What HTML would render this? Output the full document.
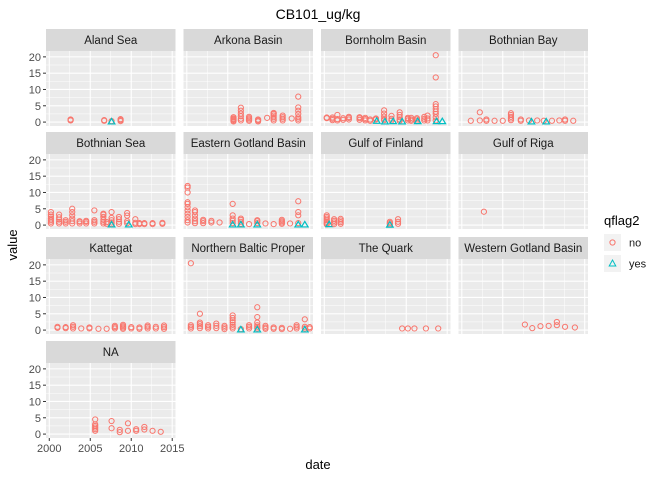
<!DOCTYPE html>
<html><head><meta charset="utf-8"><style>
body{margin:0;background:#fff;}
svg{display:block;font-family:"Liberation Sans",sans-serif;}
</style></head><body>
<svg id="chart" width="672" height="480">
<text x="318" y="19" font-size="14" text-anchor="middle" fill="#000">CB101_ug/kg</text>
<text x="318" y="469" font-size="13" text-anchor="middle" fill="#000">date</text>
<text transform="translate(17,245) rotate(-90)" font-size="13" text-anchor="middle" fill="#000">value</text>
<g>
<text x="604" y="225" font-size="13" fill="#000">qflag2</text>
<rect x="604" y="234" width="17" height="17" fill="#F2F2F2"/>
<circle cx="612.5" cy="242.5" r="2.6" fill="none" stroke="#F8766D" stroke-width="1"/>
<text x="629" y="246.5" font-size="11" fill="#1A1A1A">no</text>
<rect x="604" y="255" width="17" height="17" fill="#F2F2F2"/>
<path d="M612.5,260 L615.8,266 L609.2,266 Z" fill="none" stroke="#00BFC4" stroke-width="1"/>
<text x="629" y="267.5" font-size="11" fill="#1A1A1A">yes</text>
</g>
</svg>
<script>
const facetNames=["Aland Sea","Arkona Basin","Bornholm Basin","Bothnian Bay","Bothnian Sea","Eastern Gotland Basin","Gulf of Finland","Gulf of Riga","Kattegat","Northern Baltic Proper","The Quark","Western Gotland Basin","NA"];
const yTicks=[0,5,10,15,20];
const xTicks=[2000,2005,2010,2015];
// groups: [facet index, year, values, flag(0=no,1=yes)]
const groups=[
[0,2002.6,[0.5,0.8,0.6],0],[0,2006.7,[0.4,0.6],0],[0,2007.6,[0.3],0],[0,2007.6,[0.1],1],[0,2008.7,[0.3,0.6,0.9],0],
[1,2005.7,[0.2,0.5,0.8,1.1,1.5],0],[1,2006.6,[0.5,1,1.8,2.6,3.5,4.4],0],[1,2007.6,[0.4,0.8,1.2,1.6],0],[1,2008.7,[0.2,0.5,0.8],0],[1,2009.8,[1.3],0],[1,2010.6,[0.5,1,1.5,2,2.5,2.8],0],[1,2011.7,[0.5,1,1.5,2],0],[1,2012.8,[1.1],0],[1,2013.6,[0.5,1,1.5,2.5,3.5,4.5,7.8],0],
[2,2000.3,[1.2,1.4],0],[2,2001,[0.6,1,1.4],0],[2,2001.6,[0.5,0.9,2.2],0],[2,2002.3,[0.7,1.2],0],[2,2003,[0.8,1.3,1.6],0],[2,2004.3,[0.7,1.2,1.5],0],[2,2005,[0.5,0.9,1.3],0],[2,2005.6,[0.4,0.8],0],[2,2006.3,[0.8,1.1],0],[2,2006.4,[0.3],1],[2,2007.3,[0.6,1,1.7,2.6,3.6],0],[2,2007.4,[0.1],1],[2,2008.2,[0.5,1,1.9],0],[2,2008.4,[0.2],1],[2,2009.2,[0.4,0.8,1.5,2.2,3],0],[2,2009.5,[0.1],1],[2,2010.2,[0.5,1,1.3],0],[2,2010.6,[0.4,0.8,1.3],0],[2,2011.3,[0.3,0.8,1.2],0],[2,2011.4,[0.2],1],[2,2012.2,[0.5,1,1.6],0],[2,2012.6,[0.5,1.1,2],0],[2,2013.6,[0.5,1.5,2.5,3.2,4,4.8,5.5,13.7,20.5],0],[2,2013.7,[0.2],1],[2,2014.4,[0.2],1],
[3,2001.1,[0.4],0],[3,2002.2,[0.5,3],0],[3,2003,[0.4,0.8],0],[3,2004,[0.4],0],[3,2005,[0.4],0],[3,2006,[0.6,1.1,1.6,2.2,2.7],0],[3,2007.2,[0.4,0.8],0],[3,2008.2,[0.5],0],[3,2008.5,[0.1],1],[3,2009.2,[0.5],0],[3,2010,[0.4],0],[3,2010.3,[0.1],1],[3,2011,[0.4],0],[3,2011.9,[0.5],0],[3,2012.6,[0.4,0.8],0],[3,2013.6,[0.4],0],
[4,2000.2,[0.5,1,1.5,2,2.6,3.2,4],0],[4,2001.2,[0.5,1,1.7,2.4,3.2],0],[4,2002,[0.5,1,1.5],0],[4,2002.8,[0.5,1.2,2,3,4,5],0],[4,2003.7,[0.5,1,1.2],0],[4,2004.5,[0.5,1,1.3],0],[4,2005.5,[0.5,1,1.5,4.5],0],[4,2006.6,[0.5,1,1.6,2.5,3.2,3.5],0],[4,2007,[0.4,0.9],0],[4,2007.6,[0.3,0.8,1.5,2.2,4],0],[4,2007.6,[0.1],1],[4,2008.5,[0.4,1,1.8,2.5],0],[4,2009.5,[0.6,1.2,2.9,3.7],0],[4,2009.7,[0.1],1],[4,2010.5,[0.3,0.7,1.8],0],[4,2011,[0.3,0.6],0],[4,2011.6,[0.3,0.6],0],[4,2012.6,[0.3,0.6],0],[4,2013.8,[0.4,0.7],0],
[5,2000.1,[0.8,1.5,2.5,3.5,4.5,5.5,6.5,7,10,11.5,12],0],[5,2001,[0.6,1.2,2,3,4,4.5],0],[5,2002,[0.6,1.2,1.6],0],[5,2003,[0.8,1.3],0],[5,2004,[0.8],0],[5,2005.6,[0.6,1.3,2,3,6.5],0],[5,2005.6,[0.1],1],[5,2006.6,[0.4,1,1.6,2],0],[5,2006.6,[0.1],1],[5,2007.6,[0.3],0],[5,2008.6,[0.6,1.2,1.5],0],[5,2008.6,[0.1],1],[5,2009.6,[0.5],0],[5,2010.6,[0.3],0],[5,2011.6,[0.4,0.8,1.2,1.6],0],[5,2012.6,[0.5],0],[5,2013.6,[0.6,3,4,7.3],0],[5,2013.6,[0.1],1],[5,2014.4,[0.1],1],
[6,2000.3,[0.2,0.6,1,1.5,2,2.5,3],0],[6,2000.6,[0.2],1],[6,2001.2,[0.3,0.8,1.3,1.8],0],[6,2002,[0.4,0.9,1.4,1.9],0],[6,2008,[0.2,0.6,1],0],[6,2008,[0.05],1],[6,2009,[0.4,1,1.8],0],
[7,2002.7,[4.1],0],
[8,2001,[0.7,1],0],[8,2002,[0.6,0.9],0],[8,2002.9,[0.5,1,1.5],0],[8,2003.9,[0.5],0],[8,2004.9,[0.5,0.8],0],[8,2006,[0.4],0],[8,2007,[0.4],0],[8,2008,[0.5,0.9,1.3],0],[8,2009,[0.4,0.8,1.2,1.6],0],[8,2010,[0.5,0.9],0],[8,2011,[0.4,0.8],0],[8,2012,[0.5,1,1.4],0],[8,2013,[0.5,1],0],[8,2014,[0.4,0.9,1.4],0],
[9,2000.5,[0.5,1,1.5,20.5],0],[9,2001.6,[0.6,1.2,1.8,2.3,5],0],[9,2002.6,[0.5,1,1.5],0],[9,2003.6,[0.6,1.3,2],0],[9,2004.6,[0.3,0.8,1.3],0],[9,2005.6,[0.5,1,1.6,2.4,3,3.7,4.5],0],[9,2006.6,[0.3],0],[9,2006.6,[0.1],1],[9,2007.6,[0.5,1,1.5],0],[9,2008.6,[0.5,1,1.5,2.3,4,7],0],[9,2008.6,[0.1],1],[9,2009.6,[0.4,0.8,1.3],0],[9,2010.6,[0.4,0.8],0],[9,2011.6,[0.3,0.7],0],[9,2012.6,[0.4],0],[9,2013.4,[0.5,1,1.5],0],[9,2014.4,[0.5,1,3.3],0],[9,2014.4,[0.1],1],[9,2015,[0.5,0.9],0],
[10,2009.5,[0.5],0],[10,2011,[0.5],0],[10,2012.4,[0.5],0],[10,2013.9,[0.5],0],[10,2010.2,[0.5],0],
[11,2007.7,[1.7],0],[11,2008.6,[0.6],0],[11,2009.6,[1.2],0],[11,2010.6,[1.3],0],[11,2011.6,[1.5,2.5],0],[11,2012.6,[1],0],[11,2013.8,[0.8],0],
[12,2005.6,[1,1.5,2,2.5,3,4.5],0],[12,2007.6,[1.8,4],0],[12,2008.6,[0.6,1.3],0],[12,2009.6,[1,3.3],0],[12,2010.6,[1,1.5],0],[12,2011.6,[1.4,2.2],0],[12,2012.6,[1],0],[12,2013.6,[0.7],0]
];
const NS="http://www.w3.org/2000/svg";
const svg=document.getElementById('chart');
const colLeft=[46,183.5,321,458.5], panelW=129.5;
const stripTop=[29,132,237,341], stripH=22, panelH=75;
const xMin=1999.6,xMax=2015.4,yMin=-1.2,yMax=21.8;
function mk(tag,attrs,parent){const e=document.createElementNS(NS,tag);for(const k in attrs)e.setAttribute(k,attrs[k]);(parent||svg).appendChild(e);return e;}
function xs(c,yr){return colLeft[c]+(yr-xMin)/(xMax-xMin)*panelW;}
function ys(r,v){const top=stripTop[r]+stripH;return top+panelH-(v-yMin)/(yMax-yMin)*panelH;}
const panels=[];
facetNames.forEach((name,i)=>{
  const c=i%4,r=Math.floor(i/4);
  const g=mk('g',{});
  
  
  const st=mk('rect',{x:colLeft[c],y:stripTop[r],width:panelW,height:stripH,fill:'#D9D9D9'},g);
  
  
  const t=mk('text',{x:colLeft[c]+panelW/2,y:stripTop[r]+15,'font-size':11.5,'text-anchor':'middle',fill:'#1A1A1A'},g);
  t.textContent=name;
  
  
  const top=stripTop[r]+stripH;
  const bg=mk('rect',{x:colLeft[c],y:top,width:panelW,height:panelH,fill:'#EBEBEB'},g);
  
  
  for(let k=0;k<yTicks.length-1;k++){const v=(yTicks[k]+yTicks[k+1])/2;mk('line',{x1:colLeft[c],x2:colLeft[c]+panelW,y1:ys(r,v),y2:ys(r,v),stroke:'#fff','stroke-width':0.5},g);}
  for(let k=0;k<xTicks.length-1;k++){const v=(xTicks[k]+xTicks[k+1])/2;mk('line',{x1:xs(c,v),x2:xs(c,v),y1:top,y2:top+panelH,stroke:'#fff','stroke-width':0.5},g);}
  yTicks.forEach(v=>mk('line',{x1:colLeft[c],x2:colLeft[c]+panelW,y1:ys(r,v),y2:ys(r,v),stroke:'#fff','stroke-width':1.1},g));
  xTicks.forEach(v=>mk('line',{x1:xs(c,v),x2:xs(c,v),y1:top,y2:top+panelH,stroke:'#fff','stroke-width':1.1},g));
  if(c===0){
    yTicks.forEach(v=>{
      mk('line',{x1:colLeft[c]-3,x2:colLeft[c],y1:ys(r,v),y2:ys(r,v),stroke:'#333','stroke-width':1},g);
      const tl=mk('text',{x:colLeft[c]-5,y:ys(r,v)+4,'font-size':11,'text-anchor':'end',fill:'#4D4D4D'},g);
      tl.textContent=v;
      
      
    });
  }
  if(i===12){
    xTicks.forEach(v=>{
      mk('line',{x1:xs(c,v),x2:xs(c,v),y1:top+panelH,y2:top+panelH+3,stroke:'#333','stroke-width':1},g);
      const tl=mk('text',{x:xs(c,v),y:top+panelH+14,'font-size':11,'text-anchor':'middle',fill:'#4D4D4D'},g);
      tl.textContent=v;
      
      
    });
  }
  panels.push(g);
});
groups.forEach(gr=>{
  const [f,yr,vals,flag]=gr;const c=f%4,r=Math.floor(f/4);
  vals.forEach(v=>{
    const px=xs(c,yr),py=ys(r,v);let m;
    if(flag===0){m=mk('circle',{cx:px,cy:py,r:2.6,fill:'none',stroke:'#F8766D','stroke-width':1},panels[f]);}
    else{m=mk('path',{d:`M${px},${py-3.3} L${px+3.3},${py+2.2} L${px-3.3},${py+2.2} Z`,fill:'none',stroke:'#00BFC4','stroke-width':1.2},panels[f]);}
    
    
  });
});
</script>
</body></html>
